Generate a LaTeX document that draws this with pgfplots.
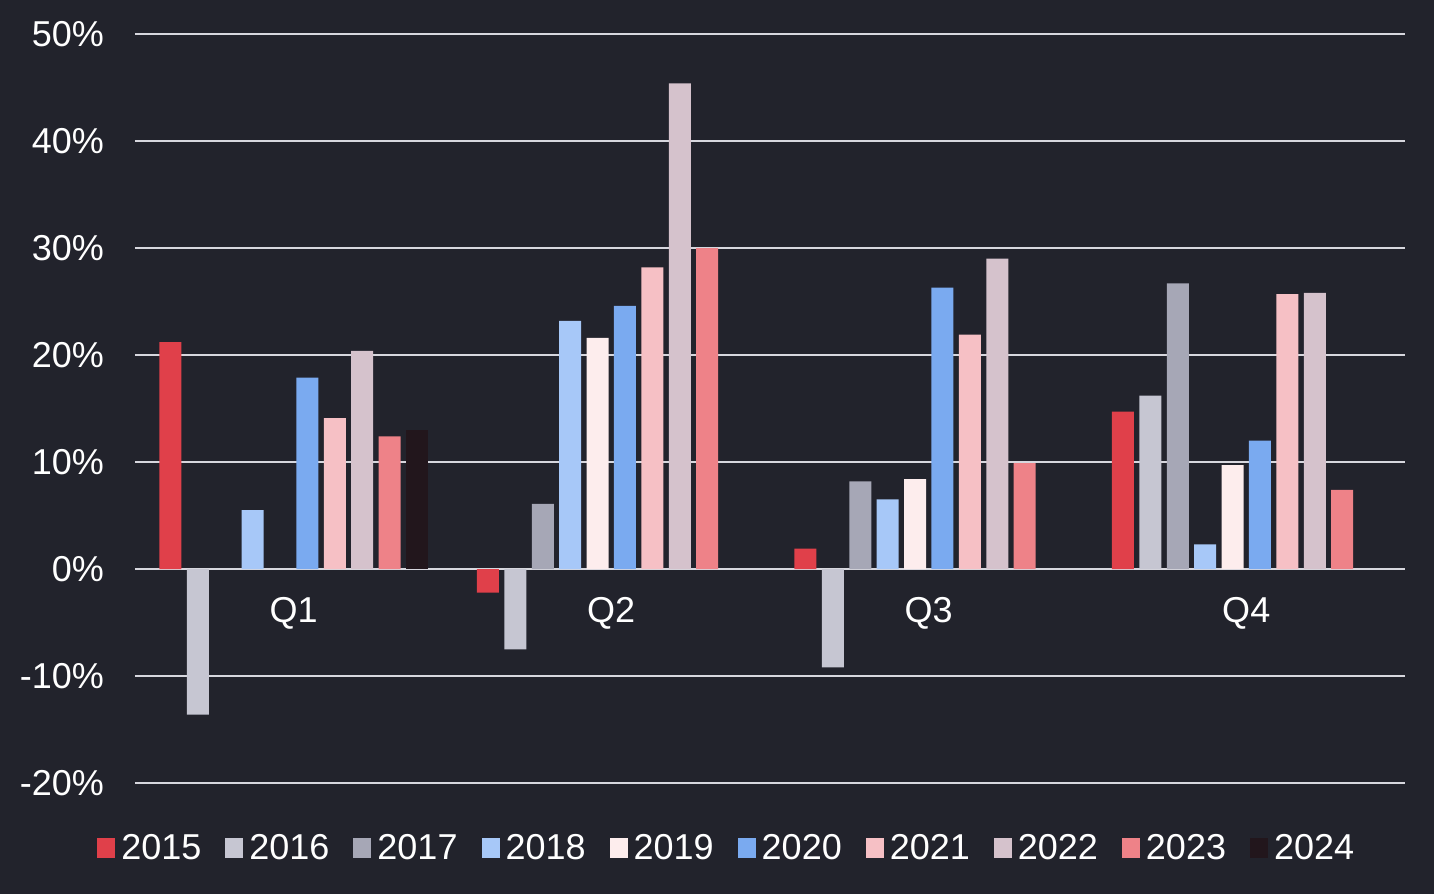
\documentclass[border=0pt]{standalone}
\usepackage{pgfplots}
\pgfplotsset{compat=1.18}
\usepackage{fontspec}
\setmainfont{Liberation Sans}

\definecolor{bg}{RGB}{34,35,44}
\definecolor{gridc}{RGB}{215,215,222}
\definecolor{c2015}{RGB}{224,64,74}
\definecolor{c2016}{RGB}{198,198,210}
\definecolor{c2017}{RGB}{166,167,182}
\definecolor{c2018}{RGB}{167,200,248}
\definecolor{c2019}{RGB}{253,237,237}
\definecolor{c2020}{RGB}{122,170,240}
\definecolor{c2021}{RGB}{246,192,197}
\definecolor{c2022}{RGB}{213,194,204}
\definecolor{c2023}{RGB}{238,130,136}
\definecolor{c2024}{RGB}{34,22,28}

\begin{document}
\begin{tikzpicture}
\useasboundingbox[fill=bg] (-33.75pt,-27.75pt) rectangle (324.75pt,195.75pt);
\begin{axis}[
    at={(0,0)}, anchor=south west,
    scale only axis,
    width=317.5pt, height=187.25pt,
    ybar=1.35pt, bar width=5.5pt,
    legend image code/.code={\fill[#1] (0pt,-2.1pt) rectangle (4.5pt,2.9pt);},
    xmin=-0.5, xmax=3.5, ymin=-20, ymax=50,
    axis line style={draw=none},
    tick style={draw=none},
    ymajorgrids,
    grid style={gridc, line width=0.5pt},
    ytick={-20,-10,0,10,20,30,40,50},
    yticklabels={-20\%,-10\%,0\%,10\%,20\%,30\%,40\%,50\%},
    xtick={0,1,2,3},
    xticklabels={Q1,Q2,Q3,Q4},
    xticklabel style={anchor=center, yshift=46.75pt},
    yticklabel style={xshift=-4.25pt},
    ticklabel style={font=\fontsize{9}{10}\selectfont, text=white},
    /pgf/number format/assume math mode=true,
    legend columns=-1,
    legend style={
        at={(0.4675,-0.0893)}, anchor=center,
        draw=none, fill=none, text=white,
        font=\fontsize{9}{10}\selectfont,
        nodes={inner xsep=1.5pt},
        /tikz/every even column/.append style={column sep=4.5pt},
    },
]
% 2015
\addplot[fill=c2015, draw=none] coordinates {(0,21.2) (1,-2.2) (2,1.9) (3,14.7)};
% 2016
\addplot[fill=c2016, draw=none] coordinates {(0,-13.6) (1,-7.5) (2,-9.2) (3,16.2)};
% 2017 (no Q1 value)
\addplot[fill=c2017, draw=none] coordinates {(1,6.1) (2,8.2) (3,26.7)};
% 2018
\addplot[fill=c2018, draw=none] coordinates {(0,5.5) (1,23.2) (2,6.5) (3,2.3)};
% 2019 (no Q1 value)
\addplot[fill=c2019, draw=none] coordinates {(1,21.6) (2,8.4) (3,9.7)};
% 2020
\addplot[fill=c2020, draw=none] coordinates {(0,17.9) (1,24.6) (2,26.3) (3,12.0)};
% 2021
\addplot[fill=c2021, draw=none] coordinates {(0,14.1) (1,28.2) (2,21.9) (3,25.7)};
% 2022
\addplot[fill=c2022, draw=none] coordinates {(0,20.4) (1,45.4) (2,29.0) (3,25.8)};
% 2023
\addplot[fill=c2023, draw=none] coordinates {(0,12.4) (1,30.0) (2,9.9) (3,7.4)};
% 2024 (Q1 only)
\addplot[fill=c2024, draw=none] coordinates {(0,13.0)};
\legend{2015,2016,2017,2018,2019,2020,2021,2022,2023,2024}
\end{axis}
\end{tikzpicture}
\end{document}
